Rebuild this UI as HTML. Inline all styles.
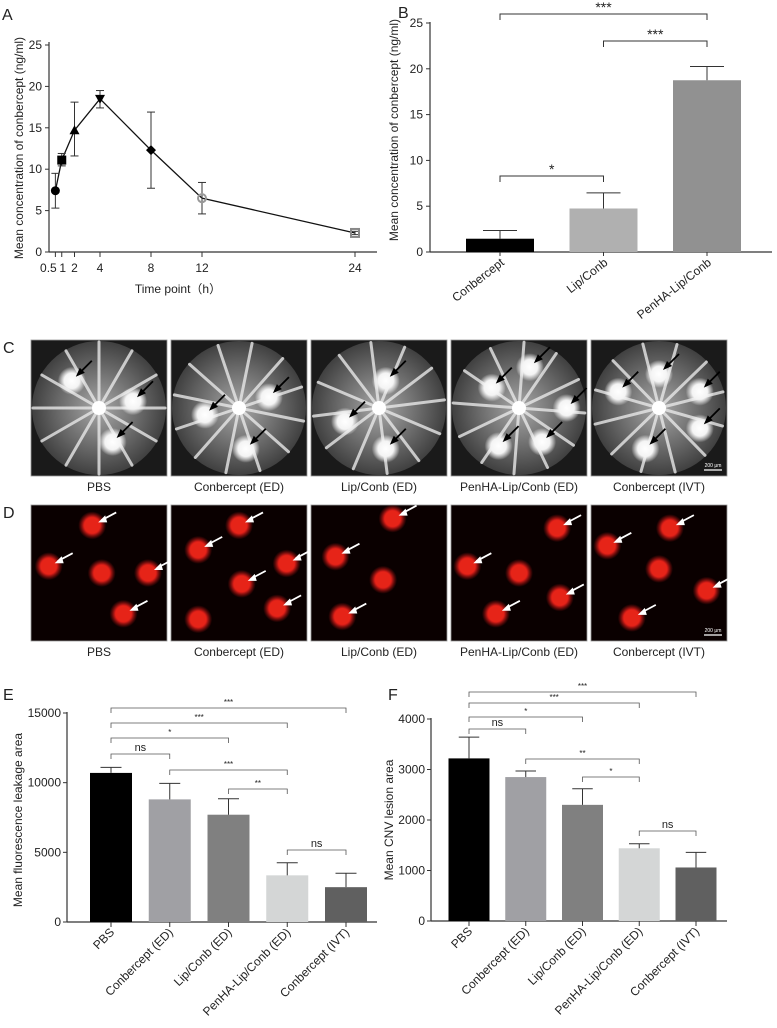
<!DOCTYPE html>
<html><head><meta charset="utf-8"><style>
html,body{margin:0;padding:0;background:#fff;}
svg{display:block;font-family:"Liberation Sans",Arial,sans-serif;}
</style></head><body>
<svg id="fig" width="777" height="1028" viewBox="0 0 777 1028" xmlns="http://www.w3.org/2000/svg">
<defs>
<radialGradient id="fund" cx="50%" cy="50%" r="50%"><stop offset="0" stop-color="#a8a8a8"/><stop offset="0.6" stop-color="#6a6a6a"/><stop offset="1" stop-color="#404040"/></radialGradient>
<radialGradient id="spot" cx="50%" cy="50%" r="50%"><stop offset="0" stop-color="#fff"/><stop offset="0.55" stop-color="#f4f4f4"/><stop offset="1" stop-color="#fff" stop-opacity="0"/></radialGradient>
<radialGradient id="red" cx="50%" cy="50%" r="50%"><stop offset="0" stop-color="#f02a20"/><stop offset="0.6" stop-color="#d81e18"/><stop offset="1" stop-color="#a01010" stop-opacity="0"/></radialGradient>
</defs>
<g id="root"></g>
</svg>
<script>
// ---------- Panel A data ----------
const timePoints = [0.5, 1, 2, 4, 8, 12, 24];
const concMeans = [7.4, 11.1, 14.7, 18.5, 12.3, 6.5, 2.3];
const concLow = [5.3, 10.4, 11.6, 17.4, 7.7, 4.6, 2.1];
const concHigh = [9.5, 11.9, 18.1, 19.5, 16.9, 8.4, 2.5];
const markerTypes = ['circle','square','tri-up','tri-down','diamond','open-circle','open-square'];
const aYTicks = [0, 5, 10, 15, 20, 25];
const aXTicks = ['0.5','1','2','4','8','12','24'];
// ---------- Panel B data ----------
const bCats = ['Conbercept','Lip/Conb','PenHA-Lip/Conb'];
const bMeans = [1.45, 4.75, 18.75];
const bErr = [0.9, 1.7, 1.5];
const bYTicks = [0, 5, 10, 15, 20, 25];
const bSig = [['***',0,2,0],['***',1,2,1],['*',0,1,2]];
// ---------- Panel E data ----------
const groups = ['PBS','Conbercept (ED)','Lip/Conb (ED)','PenHA-Lip/Conb (ED)','Conbercept (IVT)'];
const eMeans = [10700, 8800, 7700, 3350, 2500];
const eErr = [400, 1150, 1150, 900, 1000];
const eYTicks = [0, 5000, 10000, 15000];
const eSig = [['***',0,4],['***',0,3],['*',0,2],['ns',0,1],['***',1,3],['**',2,3],['ns',3,4]];
// ---------- Panel F data ----------
const fMeans = [3220, 2850, 2300, 1440, 1060];
const fErr = [420, 120, 320, 90, 300];
const fYTicks = [0, 1000, 2000, 3000, 4000];
const fSig = [['***',0,4],['***',0,3],['*',0,2],['ns',0,1],['**',1,3],['*',2,3],['ns',3,4]];
const grayFills = ['#000000','#a0a0a4','#808080','#d4d6d6','#606060'];

const NS='http://www.w3.org/2000/svg';
const root=document.getElementById('root');
function mk(tag, attrs, name, parent){
  const el=document.createElementNS(NS,tag);
  for(const k in attrs) el.setAttribute(k,attrs[k]);
  
  
  (parent||root).appendChild(el);
  return el;
}
function txt(x,y,s,size,name,extra){
  const a=Object.assign({x:x,y:y,'font-size':size,fill:'#222'},extra||{});
  const t=mk('text',a,name);
  t.textContent=s;
  return t;
}
function line(x1,y1,x2,y2,name,w,c){return mk('line',{x1:x1,y1:y1,x2:x2,y2:y2,stroke:c||'#333','stroke-width':w||1},name);}

// ================= Panel A =================
const ax=t=>49+t*12.75, ay=v=>252-v*(207/25);
txt(2,20,'A',16,'panel-a-label');
line(49,42,49,252,'a-y-axis',1.2);
line(49,252,377,252,'a-x-axis',1.2);
aYTicks.forEach(v=>{line(45,ay(v),49,ay(v),'a-y-tick');txt(42,ay(v)+4,String(v),12,'a-y-tick-label',{'text-anchor':'end'});});
timePoints.forEach((t,i)=>{line(ax(t),252,ax(t),257,'a-x-tick');txt(ax(t)+(i===0?-7:(i===1?1:0)),272,aXTicks[i],12,'a-x-tick-label',{'text-anchor':'middle'});});
txt(178,293,'Time point（h）',12,'a-x-axis-title',{'text-anchor':'middle'});
txt(0,0,'Mean concentration of conbercept (ng/ml)',12,'a-y-axis-title',{'text-anchor':'middle',transform:'translate(23,148) rotate(-90)'});
mk('polyline',{points:timePoints.map((t,i)=>ax(t)+','+ay(concMeans[i])).join(' '),fill:'none',stroke:'#111','stroke-width':1.3},'a-line');
timePoints.forEach((t,i)=>{
  const x=ax(t);
  line(x,ay(concLow[i]),x,ay(concHigh[i]),'a-error-bar');
  line(x-4,ay(concLow[i]),x+4,ay(concLow[i]),'a-error-cap');
  line(x-4,ay(concHigh[i]),x+4,ay(concHigh[i]),'a-error-cap');
  const y=ay(concMeans[i]), m=markerTypes[i];
  if(m==='circle') mk('circle',{cx:x,cy:y,r:4.5,fill:'#000'},'a-point');
  else if(m==='square') mk('rect',{x:x-4.5,y:y-4.5,width:9,height:9,fill:'#000'},'a-point');
  else if(m==='tri-up') mk('polygon',{points:`${x},${y-5} ${x-5},${y+4} ${x+5},${y+4}`,fill:'#000'},'a-point');
  else if(m==='tri-down') mk('polygon',{points:`${x},${y+5} ${x-5},${y-4} ${x+5},${y-4}`,fill:'#000'},'a-point');
  else if(m==='diamond') mk('polygon',{points:`${x},${y-5} ${x+5},${y} ${x},${y+5} ${x-5},${y}`,fill:'#000'},'a-point');
  else if(m==='open-circle') mk('circle',{cx:x,cy:y,r:4,fill:'none',stroke:'#999','stroke-width':2},'a-point');
  else mk('rect',{x:x-4,y:y-4,width:8,height:8,fill:'none',stroke:'#888','stroke-width':2},'a-point');
});

// ================= Panel B =================
const bx=i=>500+i*103.5, by=v=>252-v*(229/25);
txt(398,18,'B',16,'panel-b-label');
line(430,22,430,252,'b-y-axis',1.2);
line(430,252,772,252,'b-x-axis',1.2);
bYTicks.forEach(v=>{line(426,by(v),430,by(v),'b-y-tick');txt(423,by(v)+4,String(v),12,'b-y-tick-label',{'text-anchor':'end'});});
txt(0,0,'Mean concentration of conbercept (ng/ml)',12,'b-y-axis-title',{'text-anchor':'middle',transform:'translate(398,130) rotate(-90)'});
const bFills=['#000','#b0b0b0','#919191'];
bCats.forEach((c,i)=>{
  const x=bx(i);
  mk('rect',{x:x-34,y:by(bMeans[i]),width:68,height:252-by(bMeans[i]),fill:bFills[i]},'b-bar');
  line(x,by(bMeans[i]),x,by(bMeans[i]+bErr[i]),'b-error-bar');
  line(x-17,by(bMeans[i]+bErr[i]),x+17,by(bMeans[i]+bErr[i]),'b-error-cap');
  line(x,252,x,256,'b-x-tick');
  txt(0,0,c,12,'b-x-tick-label',{'text-anchor':'end',transform:`translate(${x+5},264) rotate(-38)`});
});
const bSigY=[14,41,176];
bSig.forEach((s,k)=>{
  const y=bSigY[k], x1=bx(s[1]), x2=bx(s[2]);
  mk('path',{d:`M${x1},${y+6}V${y}H${x2}V${y+6}`,fill:'none',stroke:'#333','stroke-width':1},'b-sig-bracket');
  txt((x1+x2)/2,y-2,s[0],14,'b-sig-label',{'text-anchor':'middle'});
});

// ================= Panels C & D (images) =================
const panelX=[31,171,311,451,591];
const cSpots=[[[0.3,0.3],[0.75,0.45],[0.6,0.75]],[[0.25,0.55],[0.72,0.42],[0.55,0.8]],[[0.55,0.3],[0.25,0.6],[0.55,0.8]],[[0.3,0.35],[0.58,0.2],[0.85,0.5],[0.35,0.78],[0.67,0.75]],[[0.5,0.25],[0.2,0.38],[0.8,0.38],[0.8,0.65],[0.4,0.8]]];
const dSpots=[[[0.45,0.15],[0.13,0.45],[0.52,0.5],[0.86,0.5],[0.68,0.8]],[[0.5,0.15],[0.2,0.33],[0.85,0.43],[0.52,0.58],[0.2,0.84],[0.78,0.76]],[[0.6,0.1],[0.18,0.38],[0.53,0.55],[0.23,0.82]],[[0.78,0.17],[0.12,0.45],[0.5,0.5],[0.8,0.68],[0.33,0.8]],[[0.58,0.17],[0.12,0.3],[0.5,0.47],[0.85,0.63],[0.3,0.83]]];
txt(3,353,'C',16,'panel-c-label');
txt(3,518,'D',16,'panel-d-label');
panelX.forEach((px,p)=>{
  const py=340,w=136;
  mk('rect',{x:px,y:py,width:w,height:w,fill:'#1a1a1a',stroke:'#999','stroke-width':0.8},'fundus-image-bg');
  mk('circle',{cx:px+w/2,cy:py+w/2,r:w/2-1,fill:'url(#fund)'},'fundus-disc');
  for(let k=0;k<12;k++){const a=k*Math.PI/6+p*0.2;
    mk('line',{x1:px+w/2,y1:py+w/2,x2:px+w/2+Math.cos(a)*66,y2:py+w/2+Math.sin(a)*66,stroke:'#e8e8e8','stroke-width':3,'stroke-linecap':'round',opacity:0.8},'fundus-vessel');}
  mk('circle',{cx:px+w/2,cy:py+w/2,r:7,fill:'#fff'},'optic-disc');
  cSpots[p].forEach(s=>{const sx=px+s[0]*w,sy=py+s[1]*w;
    mk('circle',{cx:sx,cy:sy,r:14,fill:'url(#spot)'},'leakage-spot');
    mk('line',{x1:sx+6,y1:sy-6,x2:sx+20,y2:sy-20,stroke:'#000','stroke-width':1.8},'arrow-shaft');
    mk('polygon',{points:`${sx+4},${sy-4} ${sx+13},${sy-8} ${sx+8},${sy-13}`,fill:'#000'},'arrow-head');});
  txt(px+w/2,491,groups[p],12,'c-image-label',{'text-anchor':'middle'});
  const dy=505;
  mk('rect',{x:px,y:dy,width:w,height:w,fill:'#0a0000',stroke:'#999','stroke-width':0.8},'flatmount-image-bg');
  dSpots[p].forEach((s,k)=>{const sx=px+s[0]*w,sy=dy+s[1]*w;
    mk('circle',{cx:sx,cy:sy,r:14,fill:'url(#red)'},'cnv-lesion');
    mk('circle',{cx:sx,cy:sy,r:8,fill:'#e62418'},'cnv-core');
    if(k!==(p===0?2:(p===1?4:2))){
    mk('line',{x1:sx+9,y1:sy-5,x2:sx+24,y2:sy-13,stroke:'#fff','stroke-width':1.8},'arrow-shaft');
    mk('polygon',{points:`${sx+6},${sy-3} ${sx+13},${sy-10} ${sx+15},${sy-3}`,fill:'#fff'},'arrow-head');}
  });
  txt(px+w/2,656,groups[p],12,'d-image-label',{'text-anchor':'middle'});
});
line(704,470,722,470,'scale-bar-c',1.2,'#fff');
txt(713,467,'200 μm',5,'scale-bar-c-label',{'text-anchor':'middle',fill:'#fff'});
line(704,635,722,635,'scale-bar-d',1.2,'#fff');
txt(713,632,'200 μm',5,'scale-bar-d-label',{'text-anchor':'middle',fill:'#fff'});

// ================= Bar panel helper (E, F) =================
function barPanel(o){
  const y=v=>o.y0-v*o.k, x=i=>o.cx0+i*o.dx;
  line(o.ax,o.yTop,o.ax,o.y0,o.p+'-y-axis',1.2);
  line(o.ax,o.y0,o.axEnd,o.y0,o.p+'-x-axis',1.2);
  o.ticks.forEach(v=>{line(o.ax-4,y(v),o.ax,y(v),o.p+'-y-tick');txt(o.ax-6,y(v)+4,String(v),12,o.p+'-y-tick-label',{'text-anchor':'end'});});
  o.means.forEach((m,i)=>{
    mk('rect',{x:x(i)-o.bw/2,y:y(m),width:o.bw,height:o.y0-y(m),fill:grayFills[i]},o.p+'-bar');
    line(x(i),y(m),x(i),y(m+o.err[i]),o.p+'-error-bar');
    line(x(i)-o.bw/4,y(m+o.err[i]),x(i)+o.bw/4,y(m+o.err[i]),o.p+'-error-cap');
    line(x(i),o.y0,x(i),o.y0+5,o.p+'-x-tick');
    txt(0,0,groups[i],12,o.p+'-x-tick-label',{'text-anchor':'end',transform:`translate(${x(i)+4},${o.y0+11}) rotate(-45)`});
  });
  o.sig.forEach((s,k)=>{
    const yy=o.sigY[k], x1=x(s[1]), x2=x(s[2]);
    mk('path',{d:`M${x1},${yy+5}V${yy}H${x2}V${yy+5}`,fill:'none',stroke:'#555','stroke-width':0.8},o.p+'-sig-bracket');
    txt((x1+x2)/2,yy-3,s[0],s[0]==='ns'?11:8,o.p+'-sig-label',{'text-anchor':'middle'});
  });
}
txt(3,700,'E',16,'panel-e-label');
txt(0,0,'Mean fluorescence leakage area',12,'e-y-axis-title',{'text-anchor':'middle',transform:'translate(22,820) rotate(-90)'});
barPanel({p:'e',ax:67,axEnd:377,yTop:712,y0:922,k:209/15000,cx0:111,dx:58.75,bw:42,means:eMeans,err:eErr,ticks:eYTicks,sig:eSig,sigY:[708,723,738,754,770,789,850]});
txt(388,700,'F',16,'panel-f-label');
txt(0,0,'Mean CNV lesion area',12,'f-y-axis-title',{'text-anchor':'middle',transform:'translate(393,820) rotate(-90)'});
barPanel({p:'f',ax:431,axEnd:727,yTop:718,y0:921,k:202/4000,cx0:469,dx:56.75,bw:41,means:fMeans,err:fErr,ticks:fYTicks,sig:fSig,sigY:[692,703,717,729,759,777,831]});
</script>
</body></html>
